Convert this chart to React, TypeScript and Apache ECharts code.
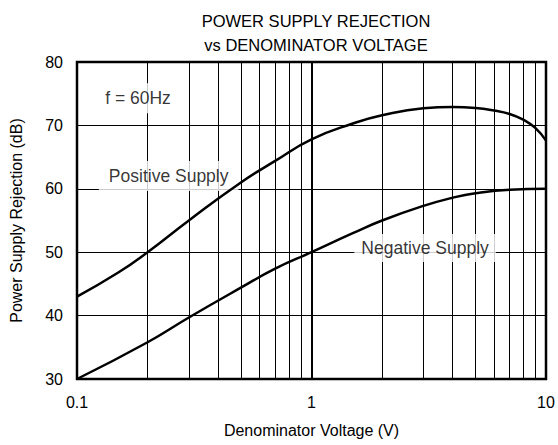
import React, { useEffect, useRef } from 'react';
import * as echarts from 'echarts';

const titleLines = ['POWER SUPPLY REJECTION', 'vs DENOMINATOR VOLTAGE'];
const xAxisName = 'Denominator Voltage (V)';
const yAxisName = 'Power Supply Rejection (dB)';
const xMin = 0.1;
const xMax = 10;
const yMin = 30;
const yMax = 80;
const yInterval = 10;

const minorGridVoltages = [0.2, 0.3, 0.4, 0.5, 0.6, 0.7, 0.8, 0.9, 2, 3, 4, 5, 6, 7, 8, 9];

const positiveSupply: [number, number][] = [
  [0.1, 43.0], [0.15, 46.8], [0.2, 50.0], [0.3, 55.0], [0.5, 61.0], [0.7, 64.4],
  [1, 67.8], [1.5, 70.3], [2, 71.6], [3, 72.7], [4, 72.9], [5, 72.75], [6, 72.35],
  [7, 71.8], [8, 70.9], [9, 69.6], [10, 67.6],
];

const negativeSupply: [number, number][] = [
  [0.1, 30.0], [0.2, 35.8], [0.3, 39.7], [0.5, 44.4], [0.7, 47.4], [1, 50.0],
  [1.5, 53.0], [2, 55.0], [3, 57.3], [4, 58.6], [5, 59.3], [7, 59.85], [10, 60.0],
];

const annotationTexts = ['f = 60Hz', 'Positive Supply', 'Negative Supply'];
const annotationVoltages = [0.182, 0.246, 3.05];
const annotationDb = [74.3, 62.0, 50.66];
const annotationPadding: [number, number][] = [[6, 9], [6, 10], [5, 7]];

const FONT = '"Liberation Sans", Arial, Helvetica, sans-serif';

export default function App() {
  const ref = useRef<HTMLDivElement>(null);

  useEffect(() => {
    if (!ref.current) return;
    const chart = echarts.init(ref.current, undefined, { renderer: 'svg' });
    const option: any = {
      animation: false,
      backgroundColor: '#fff',
      textStyle: { fontFamily: FONT, color: '#000' },
      title: {
        text: titleLines.join('\n'),
        left: 311,
        top: 4,
        textAlign: 'center',
        textStyle: {
          fontFamily: FONT,
          fontSize: 16.5,
          fontWeight: 'normal',
          color: '#000',
          lineHeight: 24,
        },
      },
      grid: {
        left: 76,
        right: 12,
        top: 62,
        bottom: 66,
        show: true,
        borderColor: '#000',
        borderWidth: 2.5,
        backgroundColor: 'transparent',
      },
      xAxis: {
        type: 'log',
        logBase: 10,
        min: xMin,
        max: xMax,
        name: xAxisName,
        nameLocation: 'middle',
        nameGap: 43,
        nameTextStyle: { fontFamily: FONT, fontSize: 16, color: '#000' },
        axisLine: { show: false },
        axisTick: { show: false },
        axisLabel: {
          fontFamily: FONT,
          fontSize: 16,
          color: '#000',
          margin: 15,
          formatter: (v: number) => String(+v.toPrecision(3)),
        },
        splitLine: { show: true, lineStyle: { color: '#000', width: 2 } },
      },
      yAxis: {
        type: 'value',
        min: yMin,
        max: yMax,
        interval: yInterval,
        name: yAxisName,
        nameLocation: 'middle',
        nameGap: 53,
        nameTextStyle: { fontFamily: FONT, fontSize: 16, color: '#000' },
        axisLine: { show: false },
        axisTick: { show: false },
        axisLabel: { fontFamily: FONT, fontSize: 16, color: '#000', margin: 14 },
        splitLine: { show: true, lineStyle: { color: '#000', width: 1 } },
      },
      series: [
        {
          type: 'line',
          data: [],
          z: 1,
          silent: true,
          markLine: {
            silent: true,
            symbol: ['none', 'none'],
            label: { show: false },
            lineStyle: { color: '#000', width: 1, type: 'solid' },
            emphasis: { disabled: true },
            data: minorGridVoltages.map((v) => ({ xAxis: v })),
          },
        },
        {
          type: 'scatter',
          z: 10,
          silent: true,
          symbolSize: 0,
          itemStyle: { color: 'rgba(0,0,0,0)' },
          data: annotationTexts.map((t, i) => ({
            value: [annotationVoltages[i], annotationDb[i]],
            label: {
              show: true,
              position: 'inside',
              formatter: t,
              padding: annotationPadding[i],
            },
          })),
          label: {
            show: true,
            position: 'inside',
            fontFamily: FONT,
            fontSize: 17.5,
            color: '#000',
            backgroundColor: '#fff',
          },
          labelLayout: { hideOverlap: false },
        },
        {
          name: 'Positive Supply',
          type: 'line',
          z: 20,
          data: positiveSupply,
          smooth: 0.5,
          showSymbol: false,
          symbol: 'none',
          lineStyle: { color: '#000', width: 2.5 },
        },
        {
          name: 'Negative Supply',
          type: 'line',
          z: 20,
          data: negativeSupply,
          smooth: 0.5,
          showSymbol: false,
          symbol: 'none',
          lineStyle: { color: '#000', width: 2.5 },
        },
      ],
    };
    chart.setOption(option);
    return () => chart.dispose();
  }, []);

  return (
    <div
      ref={ref}
      style={{ position: 'fixed', left: 0, top: 0, width: 558, height: 445, background: '#fff' }}
    />
  );
}
